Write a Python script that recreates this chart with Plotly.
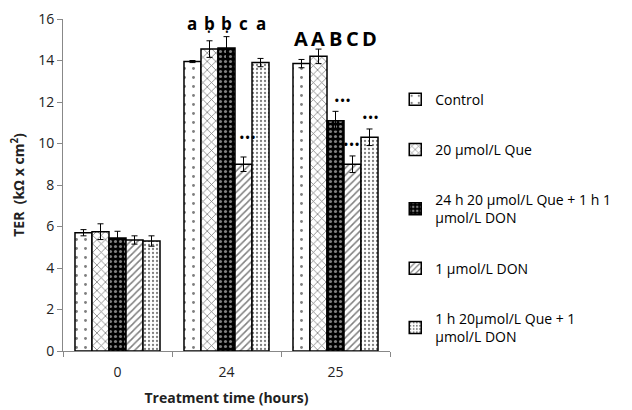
import plotly.graph_objects as go

categories = ["0", "24", "25"]
series_names = [
    "Control",
    "20 µmol/L Que",
    "24 h 20 µmol/L Que + 1 h 1<br>µmol/L DON",
    "1 µmol/L DON",
    "1 h 20µmol/L Que + 1<br>µmol/L DON",
]
values = [
    [5.7, 13.95, 13.85],
    [5.75, 14.55, 14.2],
    [5.45, 14.6, 11.1],
    [5.35, 9.0, 9.0],
    [5.3, 13.9, 10.3],
]
errors = [
    [0.15, 0.05, 0.2],
    [0.38, 0.4, 0.35],
    [0.32, 0.55, 0.45],
    [0.2, 0.35, 0.4],
    [0.25, 0.2, 0.4],
]
letters_24 = ["a", "b", "b", "c", "a"]
letters_25 = ["A", "A", "B", "C", "D"]

patterns = [
    dict(shape=".", fgcolor="black", bgcolor="white", size=9, solidity=0.08),
    dict(shape="x", fgcolor="black", bgcolor="white", size=6, solidity=0.25),
    dict(shape=".", fgcolor="white", bgcolor="black", size=5, solidity=0.3),
    dict(shape="/", fgcolor="black", bgcolor="white", size=5, solidity=0.3),
    dict(shape=".", fgcolor="black", bgcolor="white", size=4, solidity=0.25),
]
bar_colors = ["white", "white", "black", "white", "white"]

fig = go.Figure()
for i, name in enumerate(series_names):
    fig.add_trace(go.Bar(
        name=name, x=categories, y=values[i],
        marker=dict(color=bar_colors[i], pattern=patterns[i],
                    line=dict(color="black", width=1.5)),
        error_y=dict(type="data", array=errors[i], color="black",
                     thickness=1, width=3),
        legendgroup=str(i),
    ))

# geometry helpers for annotation offsets (pixels); page body adds 8px offset
W, H = 624, 402
ML, MR, MT, MB = 55, 242, 11, 59
plot_w = W - ML - MR
cat_w = plot_w / len(categories)
bargap = 0.22
bar_w = cat_w * (1 - bargap) / len(series_names)

def shift(i):
    return (i - 2) * bar_w

idx24 = categories.index("24")
idx25 = categories.index("25")

ann = []
for i, t in enumerate(letters_24):
    ann.append(dict(x=idx24, y=15.78, text=f"<b>{t}</b>", xshift=shift(i),
                    showarrow=False, font=dict(size=17, family="Open Sans", color="black")))
for i, t in enumerate(letters_25):
    ann.append(dict(x=idx25, y=15.05, text=f"<b>{t}</b>", xshift=shift(i),
                    showarrow=False, font=dict(size=20, family="Open Sans", color="black")))
# single significance dots under the b letters
for i in (1, 2):
    ann.append(dict(x=idx24, y=15.35, text="•", xshift=shift(i), showarrow=False,
                    font=dict(size=10, color="black")))
# triple significance marks
stars = [(idx24, 3, 10.3, 4), (idx25, 2, 12.1, 7), (idx25, 3, 10.0, -1), (idx25, 4, 11.3, 1)]
for cat, i, yv, xs in stars:
    ann.append(dict(x=cat, y=yv, text="•••", xshift=shift(i) + xs, showarrow=False,
                    font=dict(size=15, color="black")))

fig.update_layout(
    width=W, height=H,
    margin=dict(l=ML, r=MR, t=MT, b=MB, autoexpand=False),
    paper_bgcolor="white", plot_bgcolor="white",
    barmode="group", bargap=bargap, bargroupgap=0,
    font=dict(family="Open Sans", color="#222"),
    showlegend=True,
    legend=dict(x=1.016, y=0.805, xanchor="left", yanchor="top",
                font=dict(size=14, family="Open Sans", color="black"),
                tracegroupgap=29, itemwidth=30, bgcolor="rgba(0,0,0,0)"),
    annotations=ann,
)
fig.update_xaxes(
    type="category", range=[-0.5, 2.5], tickson="boundaries", ticks="outside", ticklen=5,
    tickcolor="#888", showline=True, linecolor="#888", linewidth=1, automargin=False,
    tickfont=dict(size=14, color="#222"), ticklabelstandoff=8,
    title=dict(text="<b>Treatment time (hours)</b>", font=dict(size=14, color="#222"), standoff=13),
)
fig.update_yaxes(
    range=[0, 16], dtick=2, ticks="outside", ticklen=5, tickcolor="#888",
    showline=True, linecolor="#888", linewidth=1, showgrid=False, zeroline=False,
    automargin=False,
    tickfont=dict(size=14, color="#222"),
    title=dict(text="<b>TER  (kΩ x cm<sup>2</sup>)</b>", font=dict(size=14, color="#222"), standoff=14),
)

fig.write_html("out.html")
